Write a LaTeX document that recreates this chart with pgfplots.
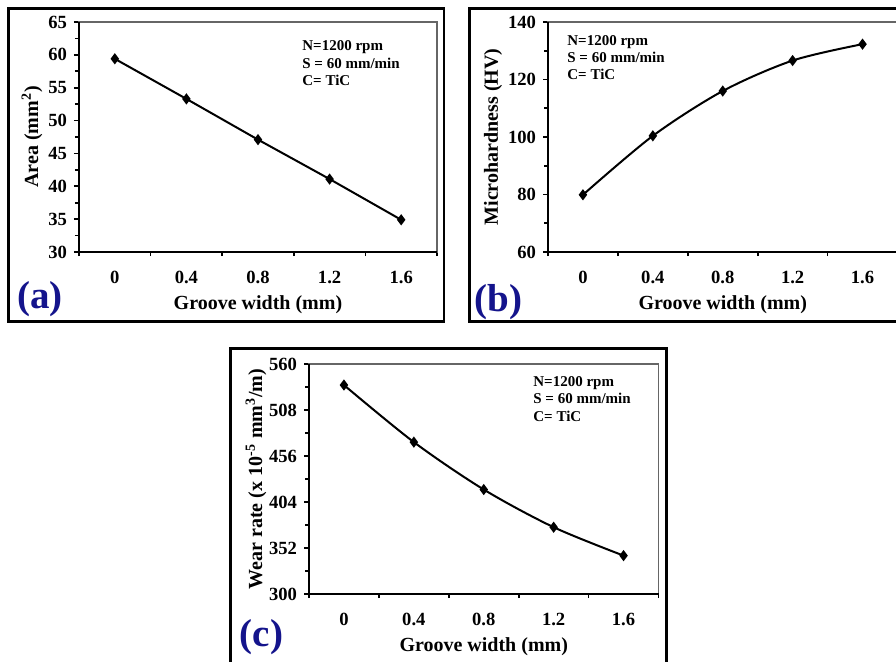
\documentclass[border=0pt]{standalone}
\usepackage{pgfplots}
\pgfplotsset{compat=1.18}
\usepackage{fontspec}
\setmainfont{Liberation Serif}
\definecolor{lblue}{RGB}{20,20,140}
\pgfplotsset{
  panel/.style={
    scale only axis,
    anchor=south west,
    height=115pt,
    xmin=-0.2, xmax=1.8,
    xtick={0,0.4,0.8,1.2,1.6},
    xticklabels={0,0.4,0.8,1.2,1.6},
    minor xtick={-0.2,0.2,0.6,1.0,1.4,1.8},
    minor y tick num=1,
    tick align=outside,
    xtick pos=left, ytick pos=left,
    major tick length=2.5pt,
    minor tick length=2pt,
    tick style={black, line width=0.8pt},
    major x tick style={draw=none},
    axis line style={black!60, line width=0.6pt},
    tick label style={font=\fontsize{9.3}{11}\selectfont\bfseries},
    /pgf/number format/assume math mode=true,
    xticklabel shift=3.5pt,
    label style={font=\fontsize{10}{12}\selectfont\bfseries},
    clip=false,
  },
  curve/.style={black, line width=1pt, mark=diamond*, mark size=2pt, mark options={solid}},
}
\newcommand{\boldaxes}{\draw[black, line width=1pt] (rel axis cs:0,1) -- (rel axis cs:0,0) -- (rel axis cs:1,0);}
\begin{document}
\begin{tikzpicture}
\useasboundingbox (0,0) rectangle (448pt,330.5pt);
\clip (0,0) rectangle (448pt,330.5pt);
\fill[white] (0,0) rectangle (448pt,330.5pt);

% frames
\draw[line width=1.35pt] (4.25pt,169.75pt) rectangle (222pt,326.25pt);
\draw[line width=1.35pt] (234.75pt,169.75pt) rectangle (456pt,326.25pt);
\draw[line width=1.35pt] (115.35pt,-8pt) rectangle (333.15pt,156.15pt);

% (a)
\begin{axis}[panel, at={(39.5pt,204.5pt)}, width=179pt,
  ymin=30, ymax=65, ytick={30,35,...,65},
  xlabel={Groove width (mm)}, ylabel={Area (mm\textsuperscript{2})},
  xlabel style={at={(axis description cs:0.5,-0.2304)}, anchor=center},
  ylabel style={at={(axis description cs:-0.1313,0.5)}, anchor=center}]
\addplot[curve] coordinates {(0,59.4) (0.4,53.3) (0.8,47.1) (1.2,41.1) (1.6,34.9)};
\boldaxes
\end{axis}

% (b)
\begin{axis}[panel, at={(274pt,204.5pt)}, width=174.75pt,
  ymin=60, ymax=140, ytick={60,80,...,140},
  xlabel={Groove width (mm)}, ylabel={Microhardness (HV)},
  xlabel style={at={(axis description cs:0.5,-0.2304)}, anchor=center},
  ylabel style={at={(axis description cs:-0.1574,0.5)}, anchor=center}]
\addplot[curve, smooth] coordinates {(0,79.9) (0.4,100.4) (0.8,116.0) (1.2,126.6) (1.6,132.3)};
\boldaxes
\end{axis}

% (c)
\begin{axis}[panel, at={(154.5pt,33.5pt)}, width=174.75pt,
  ymin=300, ymax=560, ytick={300,352,404,456,508,560},
  xlabel={Groove width (mm)}, ylabel={Wear rate (x 10\textsuperscript{-5} mm\textsuperscript{3}/m)},
  xlabel style={at={(axis description cs:0.5,-0.2307)}, anchor=center},
  ylabel style={at={(axis description cs:-0.1516,0.5)}, anchor=center}]
\addplot[curve, smooth] coordinates {(0,536.2) (0.4,471.7) (0.8,418.1) (1.2,375.5) (1.6,343.4)};
\boldaxes
\end{axis}

% annotations
\begin{scope}[every node/.style={anchor=base west, inner sep=0pt, font=\fontsize{7.5}{9}\selectfont\bfseries}]
\node at (151pt,305.5pt) {N=1200 rpm};
\node at (151pt,296.5pt) {S = 60 mm/min};
\node at (151pt,288pt) {C= TiC};
\node at (283.5pt,308pt) {N=1200 rpm};
\node at (283.5pt,299.5pt) {S = 60 mm/min};
\node at (283.5pt,291pt) {C= TiC};
\node at (266.5pt,137.5pt) {N=1200 rpm};
\node at (266.5pt,129pt) {S = 60 mm/min};
\node at (266.5pt,120pt) {C= TiC};
\end{scope}

% panel labels
\begin{scope}[every node/.style={anchor=center, inner sep=0pt, text=lblue, font=\fontsize{19.5}{22}\selectfont\bfseries}]
\node at (20pt,181pt) {(a)};
\node at (249.25pt,179.5pt) {(b)};
\node at (130.75pt,11.75pt) {(c)};
\end{scope}
\end{tikzpicture}
\end{document}
